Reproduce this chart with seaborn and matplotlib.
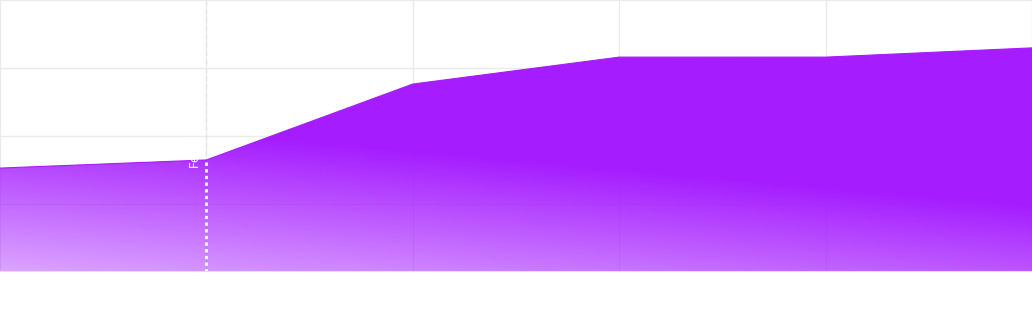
import numpy as np
import pandas as pd
import matplotlib
matplotlib.use("Agg")
import matplotlib.pyplot as plt
import seaborn as sns
from matplotlib.colors import to_rgb

# ---- data ----
x_pos = [0, 1, 2, 3, 4, 5]
values = [38.2, 41.2, 69.1, 79.0, 79.0, 82.4]
marker_index = 1
marker_label = "Feature launch"
y_ticks = [0, 25, 50, 75, 100]

sns.set_theme(style="white")
plt.rcParams['font.family'] = ['DejaVu Sans']

fig = plt.figure(figsize=(10.32, 3.12), dpi=100)
ax = fig.add_axes([0, 40 / 312, 1, 272 / 312])

df = pd.DataFrame({"x": x_pos, "y": values})
base = "#a51cff"

ax.set_xlim(0, 5)
ax.set_ylim(0, 100)
ax.set_yticks(y_ticks)
ax.set_xticks(x_pos)
ax.grid(True, color="#ebebeb", linewidth=1)
ax.set_axisbelow(True)
for s in ax.spines.values():
    s.set_visible(False)
ax.tick_params(length=0, labelbottom=False, labelleft=False)
ax.set_xlabel("")
ax.set_ylabel("")

# gradient fill clipped to the area
poly = ax.fill_between(df["x"], df["y"], 0, color="none", linewidth=0)
nx, ny = 400, 200
gx = np.linspace(0, 1, nx)
gy = np.linspace(0, 1, ny)
GX, GY = np.meshgrid(gx, gy)
f = np.clip(0.6 - 1.04 * GY - 0.35 * GX, 0, 1)
rgb = np.array(to_rgb(base))
img = np.zeros((ny, nx, 4))
img[..., :3] = rgb
img[..., 3] = 1 - f
im = ax.imshow(img, extent=[0, 5, 0, 100], origin="lower", aspect="auto",
               interpolation="bilinear", zorder=2)
path = poly.get_paths()[0]
im.set_clip_path(path, transform=ax.transData)

sns.lineplot(data=df, x="x", y="y", ax=ax, color=base, linewidth=0.8, zorder=3)
if ax.get_legend():
    ax.get_legend().remove()

# marker line
mx = x_pos[marker_index]
my = values[marker_index]
ax.axvline(mx, color="#e4e4e4", linestyle=(0, (3, 3)), linewidth=1, zorder=1)
ax.plot([mx, mx], [0, my], color="white", linestyle=(0, (1.2, 1.2)), linewidth=2, zorder=4)
ax.text(mx - 0.055, my - 2.8, marker_label, rotation=90, color="white", fontsize=8.5,
        ha="center", va="bottom", zorder=5)

ax.set_xlim(0, 5)
ax.set_ylim(0, 100)
ax.axhline(0, color="#ead8f5", linewidth=1.5, zorder=5)

fig.savefig("out.png", dpi=100)
